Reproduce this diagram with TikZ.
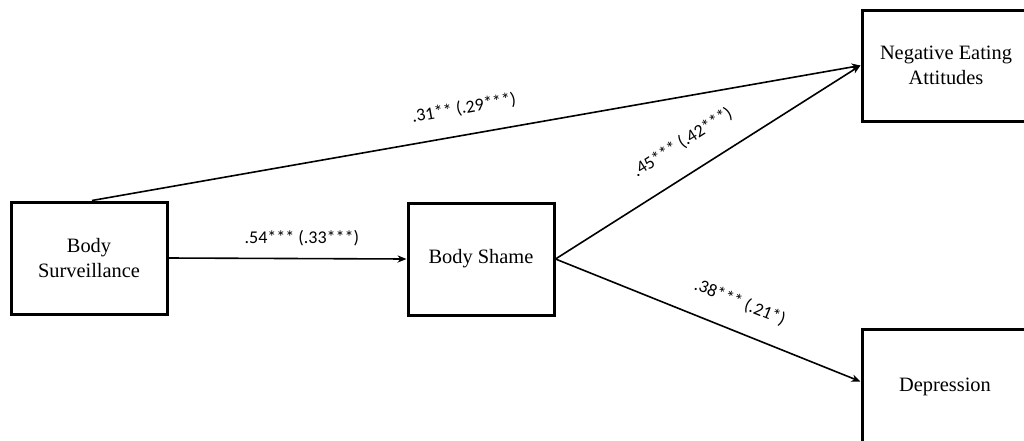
\documentclass[tikz,border=0pt]{standalone}
\usepackage{fontspec}
\setmainfont{Liberation Serif}
\newfontfamily\labelfont{Carlito}
\usetikzlibrary{arrows.meta,calc}

\begin{document}
\begin{tikzpicture}[x=0.5pt,y=-0.5pt,
  varbox/.style={draw=black, line width=1.5pt, fill=white, inner sep=0pt,
    font=\fontsize{10.2}{12.2}\selectfont, align=center},
  path/.style={line width=0.8pt, -{Stealth[length=4.5pt,width=3.6pt]}},
  coef/.style={font=\labelfont\fontsize{9}{10}\selectfont, sloped, inner sep=2pt}]

  \useasboundingbox (0,0) rectangle (1024,440);
  \clip (0,0) rectangle (1024,440);

  % variables
  \node[varbox, minimum width=78pt, minimum height=56pt] (surv) at (89,258)
    {Body\\Surveillance};
  \node[varbox, minimum width=73pt, minimum height=56pt] (shame) at (481,259)
    {Body Shame};
  \node[varbox, minimum width=84pt, minimum height=55.5pt] (nea) at (946,65.5) {};
  \node[font=\fontsize{10.2}{12.2}\selectfont, align=center] (neatext) at (nea.center)
    {Negative Eating\\Attitudes};
  \node[varbox, minimum width=84pt, minimum height=60.5pt] (dep) at (946,389.5) {};
  \node[font=\fontsize{10.2}{12.2}\selectfont] (deptext) at (945,387) {Depression};

  \coordinate (survtop) at ($(surv.north)+(3,0)$);
  \coordinate (depin) at ($(dep.north west)+(0,54)$);

  % paths with coefficients
  \draw[path] (survtop) -- node[coef, above=7pt, pos=0.49] {.31** (.29***)} (nea.west);
  \draw[path] (surv.east) -- node[coef, above=4pt, pos=0.56] {.54*** (.33***)} (shame.west);
  \draw[path] (shame.east) -- node[coef, above=9pt, pos=0.47] {.45*** (.42***)} (nea.west);
  \draw[path] (shame.east) -- node[coef, above=8pt, pos=0.57] {.38*** (.21*)} (depin);
\end{tikzpicture}
\end{document}
